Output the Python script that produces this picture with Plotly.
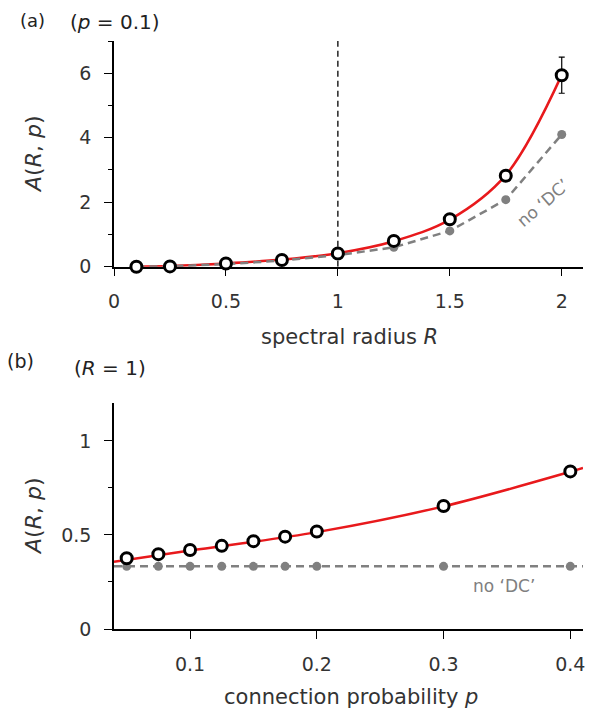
import plotly.graph_objects as go

# ---- data ----
R_sim = [0.1, 0.25, 0.5, 0.75, 1.0, 1.25, 1.5, 1.75, 2.0]
A_sim_R = [0.0, 0.01, 0.1, 0.21, 0.41, 0.80, 1.47, 2.82, 5.94]
A_err_R_last = 0.56
A_noDC_R = [0.0, 0.01, 0.08, 0.19, 0.36, 0.60, 1.11, 2.08, 4.10]
R_theory = [0.1, 0.25, 0.5, 0.75, 1.0, 1.25, 1.5, 1.75, 2.0]
A_theory_R = [0.0, 0.02, 0.1, 0.22, 0.42, 0.79, 1.46, 2.84, 5.95]

p_sim = [0.05, 0.075, 0.1, 0.125, 0.15, 0.175, 0.2, 0.3, 0.4]
A_sim_p = [0.376, 0.398, 0.42, 0.442, 0.467, 0.491, 0.518, 0.654, 0.838]
A_noDC_p = [0.333, 0.333, 0.333, 0.333, 0.333, 0.333, 0.333, 0.333, 0.333]
p_theory = [0.04, 0.1, 0.2, 0.3, 0.4, 0.41]
A_theory_p = [0.358, 0.417, 0.515, 0.652, 0.836, 0.856]
p_noDC_line = [0.04, 0.41]
A_noDC_line = [0.333, 0.333]

xticks_R = [0, 0.5, 1, 1.5, 2]
xticklabels_R = ["0", "0.5", "1", "1.5", "2"]
yticks_R = [0, 2, 4, 6]
xticks_p = [0.1, 0.2, 0.3, 0.4]
xticklabels_p = ["0.1", "0.2", "0.3", "0.4"]
yticks_p = [0, 0.5, 1]
yticklabels_p = ["0", "0.5", "1"]

# ---- styling ----
OFF = 8  # page body margin
W, H = 602 - OFF, 715 - OFF
ML, MR = 114 - OFF, 19
MT = 41 - OFF
MB = 86
PW, PH = W - ML - MR, H - MT - MB
FONT = "DejaVu Sans"
TXT = "#333333"
RED = "#e8191c"
GRAY = "#808080"


def px(x):
    return (x - OFF - ML) / PW


def py(y):
    return (H - MB - (y - OFF)) / PH


top_dom = [py(266.7), 1.0]
bot_dom = [0.0, py(403.3)]

fig = go.Figure()

# ---- panel (a) ----
fig.add_trace(go.Scatter(x=R_theory, y=A_theory_R, mode="lines", line=dict(color=RED, width=2.5, shape="spline"),
                         xaxis="x", yaxis="y", showlegend=False, hoverinfo="skip"))
fig.add_trace(go.Scatter(x=R_sim, y=A_noDC_R, mode="lines+markers",
                         line=dict(color=GRAY, width=2.5, dash="8px,5px"),
                         marker=dict(color=GRAY, size=9), cliponaxis=False,
                         xaxis="x", yaxis="y", showlegend=False))
fig.add_trace(go.Scatter(x=[R_sim[-1]], y=[A_sim_R[-1]], mode="markers",
                         marker=dict(size=1, color="rgba(0,0,0,0)"),
                         error_y=dict(type="data", array=[A_err_R_last], color="black", thickness=1.2, width=3),
                         xaxis="x", yaxis="y", showlegend=False))
fig.add_trace(go.Scatter(x=R_sim, y=A_sim_R, mode="markers",
                         marker=dict(color="white", size=11, line=dict(color="black", width=3)),
                         cliponaxis=False, xaxis="x", yaxis="y", showlegend=False))

# ---- panel (b) ----
fig.add_trace(go.Scatter(x=p_theory, y=A_theory_p, mode="lines", line=dict(color=RED, width=2.5, shape="spline"),
                         xaxis="x2", yaxis="y2", showlegend=False, hoverinfo="skip"))
fig.add_trace(go.Scatter(x=p_noDC_line, y=A_noDC_line, mode="lines",
                         line=dict(color=GRAY, width=2.5, dash="8px,5px"),
                         xaxis="x2", yaxis="y2", showlegend=False))
fig.add_trace(go.Scatter(x=p_sim, y=A_noDC_p, mode="markers",
                         marker=dict(color=GRAY, size=9), cliponaxis=False,
                         xaxis="x2", yaxis="y2", showlegend=False))
fig.add_trace(go.Scatter(x=p_sim, y=A_sim_p, mode="markers",
                         marker=dict(color="white", size=11, line=dict(color="black", width=3)),
                         cliponaxis=False, xaxis="x2", yaxis="y2", showlegend=False))

axis_common = dict(showline=True, linecolor="black", linewidth=1.5, ticks="outside", ticklen=8,
                   tickcolor="black", tickwidth=1.2, showgrid=False, zeroline=False,
                   tickfont=dict(family=FONT, size=19, color=TXT), layer="below traces")

fig.update_layout(
    width=W, height=H, margin=dict(l=ML, r=MR, t=MT, b=MB),
    plot_bgcolor="white", paper_bgcolor="white",
    xaxis=dict(domain=[0, 1], anchor="y", range=[0, 2.095], tickvals=xticks_R, ticktext=xticklabels_R,
               ticklabelstandoff=9, **axis_common),
    yaxis=dict(domain=top_dom, anchor="x", range=[0, 7], tickvals=yticks_R, ticklabelstandoff=9,
               minor=dict(dtick=1, ticklen=4, tickcolor="black", ticks="outside", showgrid=False), **axis_common),
    xaxis2=dict(domain=[0, 1], anchor="y2", range=[0.04, 0.41], tickvals=xticks_p, ticktext=xticklabels_p,
                ticklabelstandoff=9, **axis_common),
    yaxis2=dict(domain=bot_dom, anchor="x2", range=[0, 1.2], tickvals=yticks_p, ticktext=yticklabels_p,
                ticklabelstandoff=9,
                minor=dict(dtick=0.25, ticklen=4, tickcolor="black", ticks="outside", showgrid=False), **axis_common),
)

fig.add_shape(type="line", xref="x", yref="y", x0=1, x1=1, y0=0, y1=7,
              line=dict(color="black", width=1.3, dash="6px,4px"), layer="below")


def ann(text, x, y, size=21, color=TXT, angle=0, yanchor="middle"):
    fig.add_annotation(text=text, xref="paper", yref="paper", x=px(x), y=py(y), showarrow=False,
                       xanchor="center", yanchor=yanchor, textangle=angle,
                       font=dict(family=FONT, size=size, color=color))


ann("(a)", 32, 8.5, size=18, color="#222", yanchor="top")
ann("(<i>p</i> = 0.1)", 115, 22, size=20, color="#222")
ann("(b)", 20, 361, size=19, color="#222")
ann("(<i>R</i> = 1)", 110, 368, size=20, color="#222")
ann("spectral radius <i>R</i>", 349, 337)
ann("connection probability <i>p</i>", 351, 697)
ann("<i>A</i>(<i>R</i>, <i>p</i>)", 33, 154, size=22, angle=-90)
ann("<i>A</i>(<i>R</i>, <i>p</i>)", 33, 516, size=22, angle=-90)
ann("no ‘DC’", 543, 203, size=17, color=GRAY, angle=-41)
ann("no ‘DC’", 504, 586, size=17, color=GRAY)

fig.write_html("out.html")
